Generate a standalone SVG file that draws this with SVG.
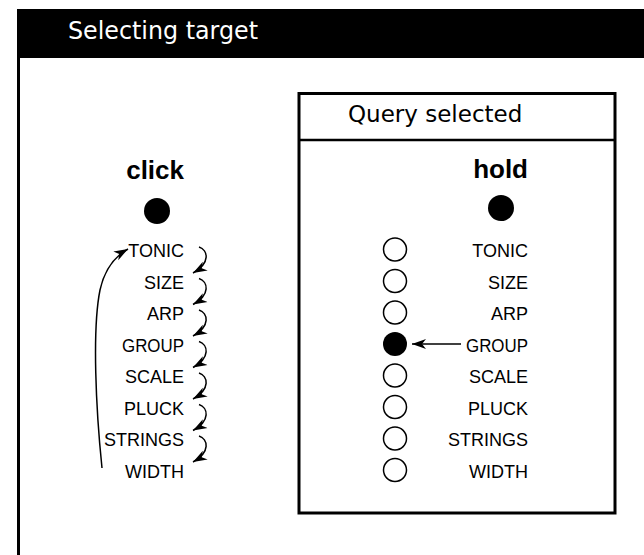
<svg xmlns="http://www.w3.org/2000/svg" width="644" height="555" viewBox="0 0 644 555">
<style>
.title{font-family:"DejaVu Sans",sans-serif;font-size:24px;fill:#fff}
.qtitle{font-family:"DejaVu Sans",sans-serif;font-size:23px;fill:#000}
.head{font-family:"Liberation Sans",Arial,sans-serif;font-size:26px;font-weight:bold;fill:#000;text-anchor:end}
.item{font-family:"Liberation Sans",Arial,sans-serif;font-size:18px;fill:#000;text-anchor:end}
.ring{fill:#fff;stroke:#000;stroke-width:1.5}
.dot{fill:#000}
.conn{fill:none;stroke:#000;stroke-width:1.5}
</style>
<defs>
<marker id="ah" markerUnits="userSpaceOnUse" markerWidth="16" markerHeight="12" refX="14" refY="6" orient="auto">
<path d="M0,1 L14,6 L0,11 L4,6 Z" fill="#000"/>
</marker>
</defs>
<rect width="644" height="555" fill="#fff"/>
<g id="frame">
<rect x="17" y="9" width="627" height="49" fill="#000"/>
<line x1="18.5" y1="58" x2="18.5" y2="555" stroke="#000" stroke-width="3"/>
<text class="title" x="68" y="39" textLength="190" lengthAdjust="spacingAndGlyphs">Selecting target</text>
</g>
<g id="query-box">
<rect x="299" y="93.5" width="316" height="419.5" fill="none" stroke="#000" stroke-width="3"/>
<line x1="299" y1="140" x2="615" y2="140" stroke="#000" stroke-width="2.5"/>
<text class="qtitle" x="348" y="122">Query selected</text>
</g>
<g id="click">
<text class="head" x="184" y="179">click</text>
<circle class="dot" cx="157" cy="211" r="13"/>
</g>
<g id="click-list">
<text class="item" x="184" y="257">TONIC</text>
<text class="item" x="184" y="288.5">SIZE</text>
<text class="item" x="184" y="320">ARP</text>
<text class="item" x="184" y="351.5" textLength="62" lengthAdjust="spacingAndGlyphs">GROUP</text>
<text class="item" x="184" y="383">SCALE</text>
<text class="item" x="184" y="414.5">PLUCK</text>
<text class="item" x="184" y="446">STRINGS</text>
<text class="item" x="184" y="477.5">WIDTH</text>
</g>
<g id="hold">
<text class="head" x="528" y="178">hold</text>
<circle class="dot" cx="501" cy="208" r="13"/>
</g>
<g id="hold-list">
<text class="item" x="528" y="257">TONIC</text>
<text class="item" x="528" y="288.5">SIZE</text>
<text class="item" x="528" y="320">ARP</text>
<text class="item" x="528" y="351.5" textLength="62" lengthAdjust="spacingAndGlyphs">GROUP</text>
<text class="item" x="528" y="383">SCALE</text>
<text class="item" x="528" y="414.5">PLUCK</text>
<text class="item" x="528" y="446">STRINGS</text>
<text class="item" x="528" y="477.5">WIDTH</text>
<circle class="ring" cx="395" cy="249.5" r="11.5"/>
<circle class="ring" cx="395" cy="281" r="11.5"/>
<circle class="ring" cx="395" cy="312.5" r="11.5"/>
<circle class="dot" cx="395" cy="344" r="12"/>
<circle class="ring" cx="395" cy="375.5" r="11.5"/>
<circle class="ring" cx="395" cy="407" r="11.5"/>
<circle class="ring" cx="395" cy="438.5" r="11.5"/>
<circle class="ring" cx="395" cy="470" r="11.5"/>
</g>
<g id="connectors">
<path class="conn" marker-end="url(#ah)" d="M199,247 C208,250 211,263 193,273"/>
<path class="conn" marker-end="url(#ah)" d="M199,278.5 C208,281.5 211,294.5 193,304.5"/>
<path class="conn" marker-end="url(#ah)" d="M199,310 C208,313 211,326 193,336"/>
<path class="conn" marker-end="url(#ah)" d="M199,341.5 C208,344.5 211,357.5 193,367.5"/>
<path class="conn" marker-end="url(#ah)" d="M199,373 C208,376 211,389 193,399"/>
<path class="conn" marker-end="url(#ah)" d="M199,404.5 C208,407.5 211,420.5 193,430.5"/>
<path class="conn" marker-end="url(#ah)" d="M199,436 C208,439 211,452 193,462"/>
<path class="conn" marker-end="url(#ah)" d="M102,468 C96,410 92,330 100,290 C104,272 112,258 128,249"/>
<path class="conn" marker-end="url(#ah)" d="M461,344 L412,344"/>
</g>
</svg>
